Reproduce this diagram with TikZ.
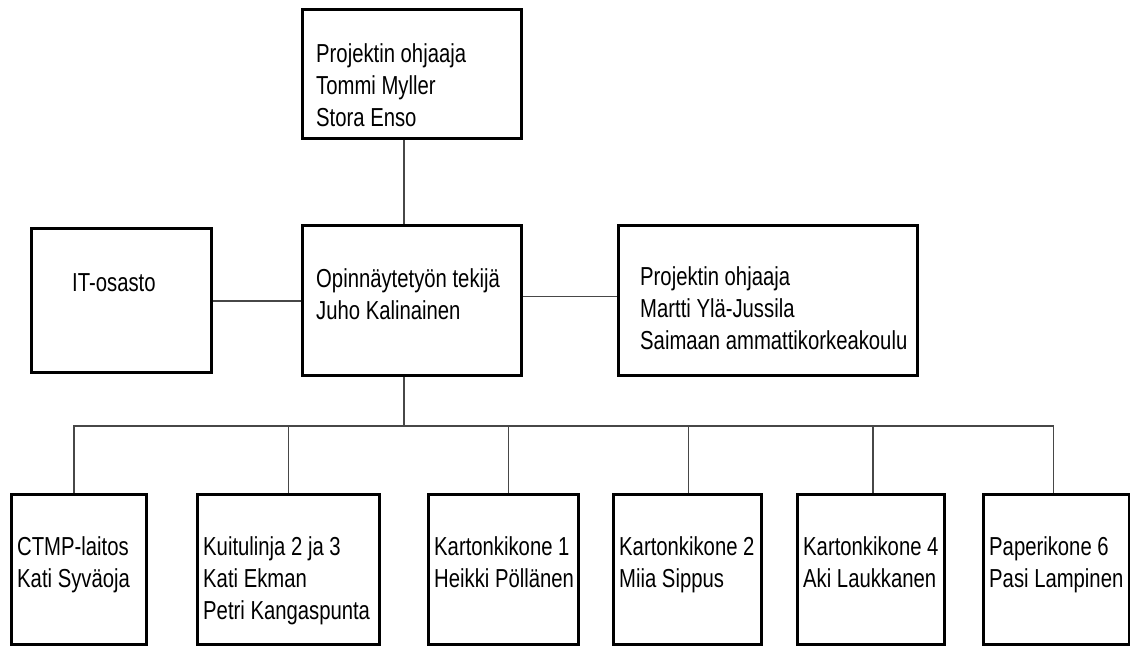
\documentclass[tikz,border=0pt]{standalone}
\usepackage{fontspec}
\setmainfont{Liberation Sans}[FakeStretch=0.78]
\begin{document}
\begin{tikzpicture}[x=1pt,y=-1pt,
  box/.style={draw=black, line width=3pt, inner sep=0pt, anchor=north west},
  % texts are placed by the baseline of their last line
  txt/.style={anchor=base west, align=left, inner sep=0pt,
    font=\fontsize{26}{32}\selectfont},
  link/.style={draw=black!72, line width=1.3pt}]
\useasboundingbox (0,0) rectangle (1130,646);

% upper level
\node[box, minimum width=219pt, minimum height=129pt] (top) at (301,8) {};
\node[txt] (toptxt) at (316,126) {Projektin ohjaaja\\Tommi Myller\\Stora Enso};

% middle level
\node[box, minimum width=180pt, minimum height=144pt] (it) at (30,227) {};
\node[txt] (ittxt) at (72,291) {IT-osasto};
\node[box, minimum width=219pt, minimum height=150pt] (mid) at (301,224) {};
\node[txt] (midtxt) at (316,319) {Opinnäytetyön tekijä\\Juho Kalinainen};
\node[box, minimum width=299pt, minimum height=150pt] (right) at (617,224) {};
\node[txt] (righttxt) at (640,349) {Projektin ohjaaja\\Martti Ylä-Jussila\\Saimaan ammattikorkeakoulu};

% lower level
\node[box, minimum width=135pt, minimum height=150pt] (b1) at (10,493) {};
\node[txt] (t1) at (17,587) {CTMP-laitos\\Kati Syväoja};
\node[box, minimum width=182pt, minimum height=150pt] (b2) at (196,493) {};
\node[txt] (t2) at (203,619) {Kuitulinja 2 ja 3\\Kati Ekman\\Petri Kangaspunta};
\node[box, minimum width=150pt, minimum height=150pt] (b3) at (427,493) {};
\node[txt] (t3) at (434,587) {Kartonkikone 1\\Heikki Pöllänen};
\node[box, minimum width=148pt, minimum height=150pt] (b4) at (612,493) {};
\node[txt] (t4) at (619,587) {Kartonkikone 2\\Miia Sippus};
\node[box, minimum width=147pt, minimum height=150pt] (b5) at (796,493) {};
\node[txt] (t5) at (803,587) {Kartonkikone 4\\Aki Laukkanen};
\node[box, minimum width=146pt, minimum height=150pt] (b6) at (982,493) {};
\node[txt] (t6) at (989,587) {Paperikone 6\\Pasi Lampinen};

% connectors
\draw[link] ([xshift=-8pt]top.south) -- ([xshift=-8pt]mid.north);
\draw[link] ([yshift=-0.5pt]it.east) -- ([yshift=-0.5pt]it.east -| mid.west);
\draw[link] ([yshift=4pt]mid.east) -- ([yshift=4pt]mid.east -| right.west);
\draw[link] ([xshift=-8pt]mid.south) -- ++(0,49) coordinate (bus);
\foreach \b/\dx in {b1/-5, b2/0, b3/5, b4/1, b5/2, b6/-3}
  \draw[link] (bus) -| ([xshift=\dx pt]\b.north);
\end{tikzpicture}
\end{document}
